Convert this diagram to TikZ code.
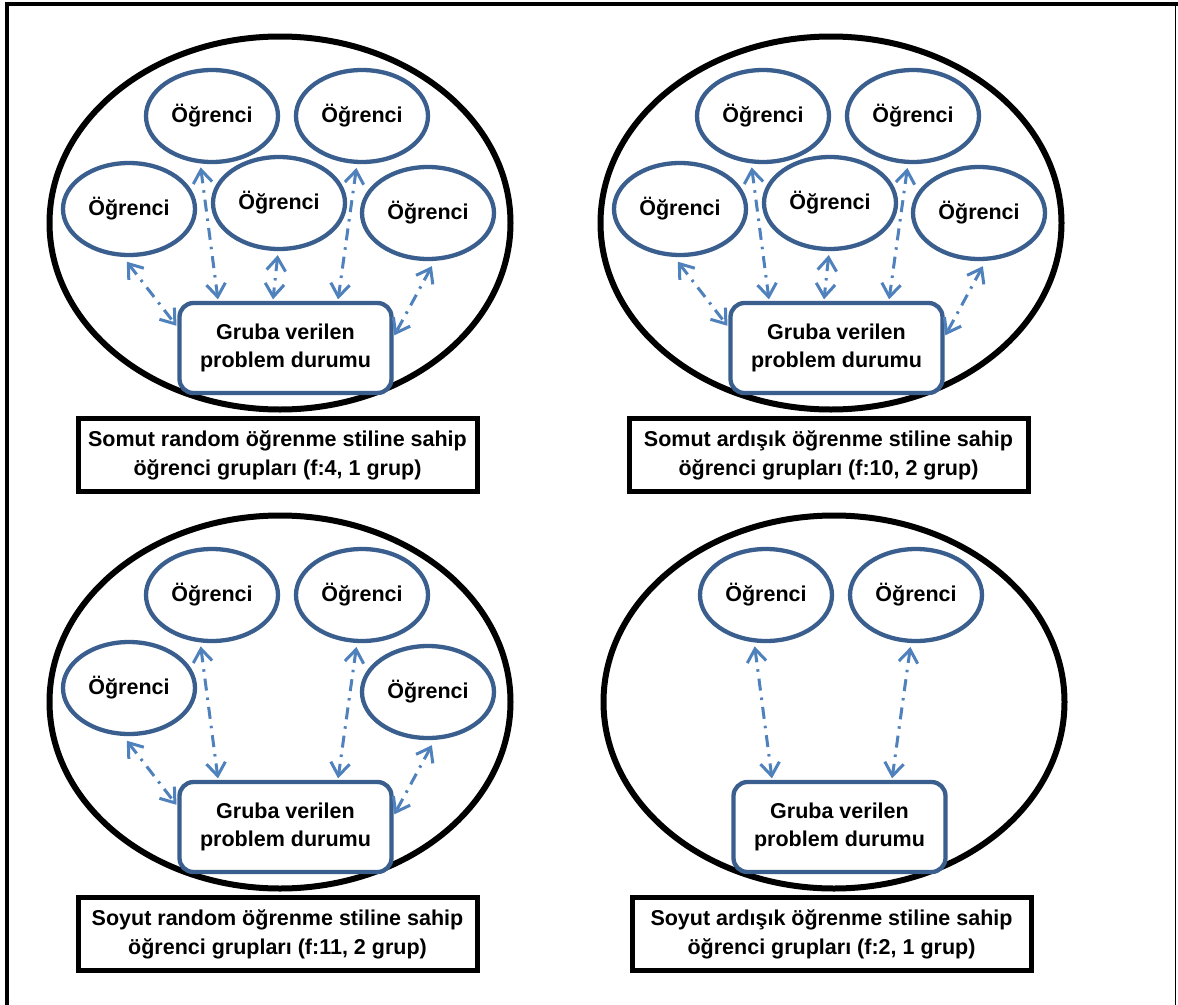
\documentclass[tikz,border=0pt]{standalone}
\usepackage{fontspec}
\setmainfont{Liberation Sans}
\usetikzlibrary{shapes.geometric,arrows.meta}
\definecolor{stu}{HTML}{3A5F8E}
\definecolor{arr}{HTML}{4F81BD}
\begin{document}
\begin{tikzpicture}[x=1pt,y=-1pt,
  every node/.style={font=\fontsize{21.5}{28}\selectfont\bfseries},
  outer/.style={ellipse,draw=black,line width=6pt,minimum width=461pt,minimum height=373pt,inner sep=0pt},
  stud/.style={ellipse,draw=stu,line width=4.3pt,fill=white,minimum width=132pt,minimum height=92pt,inner sep=0pt},
  task/.style={rectangle,rounded corners=14pt,draw=stu,line width=4.3pt,fill=white,minimum width=212pt,minimum height=90pt,align=center,inner sep=0pt},
  capt/.style={rectangle,draw=black,line width=5pt,fill=white,minimum width=399pt,minimum height=73pt,align=center,inner sep=0pt,font=\fontsize{21.5}{29}\selectfont\bfseries},
  link/.style={draw=arr,line width=3pt,dash pattern=on 12pt off 7pt on 2.5pt off 7pt,
    {Straight Barb[length=13pt,width=19pt]}-{Straight Barb[length=13pt,width=19pt]},
    shorten <=4pt,shorten >=1.5pt}
]
\useasboundingbox (0,0) rectangle (1178,1004);
\fill[white] (0,0) rectangle (1178,1004);
% outer frame
\draw[line width=4.5pt] (7,1006) -- (7,4) -- (1178,4);
\draw[line width=1.5pt] (1175.5,4) -- (1175.5,1006);

% ---------- top left ----------
\begin{scope}[shift={(0,0)}]
\node[outer] (a-big) at (280,223) {};
\node[task] (a-box) at (285.5,348) {Gruba verilen\\problem durumu};
\node[stud] (a-s1) at (212,116) {Öğrenci};
\node[stud] (a-s2) at (362,116) {Öğrenci};
\node[stud] (a-s3) at (129,209) {Öğrenci};
\node[stud] (a-s4) at (279,203) {Öğrenci};
\node[stud] (a-s5) at (428,213) {Öğrenci};
\draw[link,shorten <=6pt] (a-s3.-97.5) -- (a-box.169);
\draw[link] (a-s1.-104) -- (a-box.145);
\draw[link] (a-s4.-91) -- (a-box.105);
\draw[link] (a-s2.-96) -- (a-box.42);
\draw[link,shorten <=6pt] (a-s5.-82) -- (a-box.6);
\node[capt] (a-cap) at (277.5,455) {Somut random öğrenme stiline sahip\\öğrenci grupları (f:4, 1 grup)};
\end{scope}

% ---------- top right ----------
\begin{scope}[shift={(551,0)}]
\node[outer] (b-big) at (280,223) {};
\node[task] (b-box) at (285.5,348) {Gruba verilen\\problem durumu};
\node[stud] (b-s1) at (212,116) {Öğrenci};
\node[stud] (b-s2) at (362,116) {Öğrenci};
\node[stud] (b-s3) at (129,209) {Öğrenci};
\node[stud] (b-s4) at (279,203) {Öğrenci};
\node[stud] (b-s5) at (428,213) {Öğrenci};
\draw[link,shorten <=6pt] (b-s3.-97.5) -- (b-box.169);
\draw[link] (b-s1.-104) -- (b-box.145);
\draw[link] (b-s4.-91) -- (b-box.105);
\draw[link] (b-s2.-96) -- (b-box.42);
\draw[link,shorten <=6pt] (b-s5.-82) -- (b-box.6);
\node[capt] (b-cap) at (277.5,455) {Somut ardışık öğrenme stiline sahip\\öğrenci grupları (f:10, 2 grup)};
\end{scope}

% ---------- bottom left ----------
\begin{scope}[shift={(0,479)}]
\node[outer] (c-big) at (280,223) {};
\node[task] (c-box) at (285.5,348) {Gruba verilen\\problem durumu};
\node[stud] (c-s1) at (212,116) {Öğrenci};
\node[stud] (c-s2) at (362,116) {Öğrenci};
\node[stud] (c-s3) at (129,209) {Öğrenci};
\node[stud] (c-s5) at (428,213) {Öğrenci};
\draw[link,shorten <=6pt] (c-s3.-97.5) -- (c-box.169);
\draw[link] (c-s1.-104) -- (c-box.145);
\draw[link] (c-s2.-96) -- (c-box.42);
\draw[link,shorten <=6pt] (c-s5.-82) -- (c-box.6);
\node[capt] (c-cap) at (277.5,455) {Soyut random öğrenme stiline sahip\\öğrenci grupları (f:11, 2 grup)};
\end{scope}

% ---------- bottom right ----------
\begin{scope}[shift={(554,479)}]
\node[outer] (d-big) at (280,223) {};
\node[task] (d-box) at (285.5,348) {Gruba verilen\\problem durumu};
\node[stud] (d-s1) at (212,116) {Öğrenci};
\node[stud] (d-s2) at (362,116) {Öğrenci};
\draw[link] (d-s1.-104) -- (d-box.145);
\draw[link] (d-s2.-96) -- (d-box.42);
\node[capt] (d-cap) at (277.5,455) {Soyut ardışık öğrenme stiline sahip\\öğrenci grupları (f:2, 1 grup)};
\end{scope}
\end{tikzpicture}
\end{document}
